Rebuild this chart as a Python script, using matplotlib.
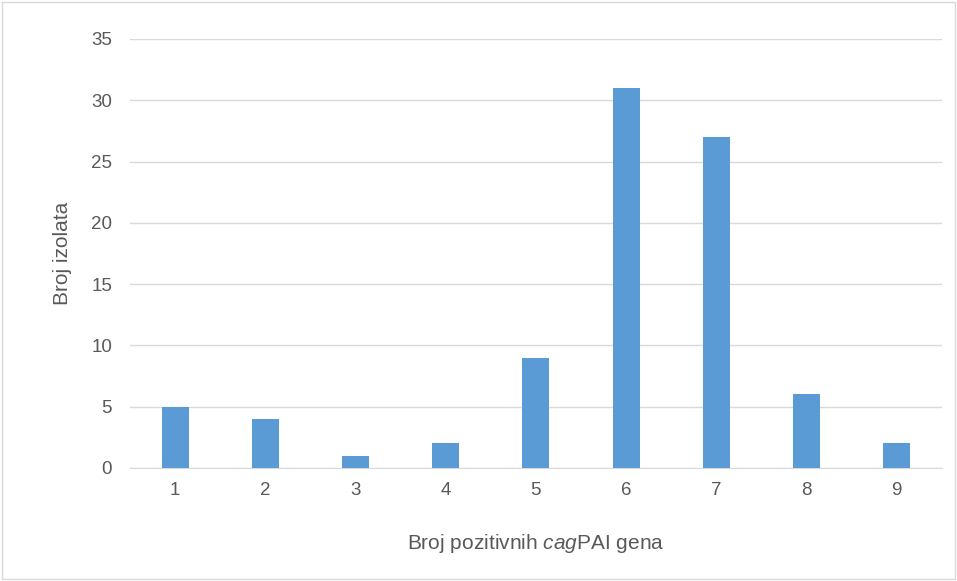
import numpy as np
import matplotlib.pyplot as plt
from matplotlib.patches import Rectangle

# data
geni = [1, 2, 3, 4, 5, 6, 7, 8, 9]
broj_izolata = [5, 4, 1, 2, 9, 31, 27, 6, 2]

plt.rcParams['font.family'] = ['Liberation Sans', 'DejaVu Sans']
plt.rcParams['mathtext.fontset'] = 'custom'
plt.rcParams['mathtext.it'] = 'Liberation Sans:italic'
plt.rcParams['mathtext.rm'] = 'Liberation Sans'

fig = plt.figure(figsize=(9.57, 5.81), dpi=100)
ax = fig.add_axes([0.136, 0.1945, 0.848, 0.7385])

x = np.arange(len(geni))
ax.bar(x, broj_izolata, width=0.3, color='#5B9BD5', zorder=3)

ax.set_xlim(-0.5, len(geni) - 0.5)
ax.set_ylim(0, 35)
ax.set_yticks(range(0, 36, 5))
ax.set_xticks(x)
ax.set_xticklabels([str(g) for g in geni])
ax.yaxis.grid(True, color='#D9D9D9', linewidth=1, zorder=0)
for s in ['top', 'right', 'left']:
    ax.spines[s].set_visible(False)
ax.spines['bottom'].set_color('#D9D9D9')
ax.tick_params(length=0, labelsize=13.5, colors='#595959', pad=10)
ax.tick_params(axis='y', pad=13)

ax.set_ylabel('Broj izolata', fontsize=15, color='#595959', labelpad=14)
ax.set_xlabel(r'Broj pozitivnih $\mathit{cag}$PAI gena', fontsize=15,
              color='#595959', labelpad=24)

# border around the whole chart
fig.patches.append(Rectangle((0.002, 0.003), 0.996, 0.994, transform=fig.transFigure,
                             fill=False, edgecolor='#D9D9D9', linewidth=1))

fig.savefig('out.png', dpi=100)
